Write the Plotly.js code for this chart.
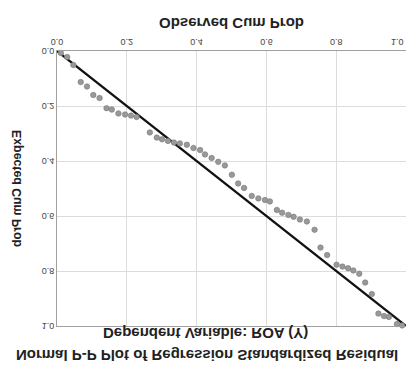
<!DOCTYPE html>
<html>
<head>
<meta charset="utf-8">
<script src="https://cdn.plot.ly/plotly-3.0.1.min.js"></script>
<style>
html,body{margin:0;padding:0;background:#fff;}
#chart{width:406px;height:365px;transform:scaleY(-1);transform-origin:50% 50%;}
</style>
</head>
<body>
<div id="chart"></div>
<script>
// Observed cumulative probability (x) and expected cumulative probability (y)
const observedCumProb = [0.011,0.029,0.047,0.068,0.086,0.104,0.122,0.142,0.157,0.176,0.195,0.212,0.228,
  0.266,0.286,0.301,0.318,0.335,0.352,0.372,0.391,0.410,0.424,0.443,0.462,0.481,0.501,0.519,0.536,
  0.558,0.577,0.596,0.610,0.630,0.645,0.663,0.678,0.696,0.716,0.738,0.755,0.774,0.801,0.818,0.834,
  0.849,0.866,0.883,0.902,0.921,0.937,0.951,0.974,0.989];
const expectedCumProb = [0.007,0.022,0.051,0.113,0.129,0.160,0.171,0.208,0.213,0.227,0.231,0.235,0.240,
  0.296,0.315,0.321,0.327,0.333,0.336,0.341,0.353,0.360,0.376,0.389,0.403,0.416,0.450,0.482,0.498,
  0.527,0.536,0.542,0.547,0.578,0.588,0.596,0.603,0.613,0.620,0.650,0.715,0.742,0.777,0.784,0.790,
  0.798,0.810,0.842,0.884,0.955,0.964,0.967,0.993,0.998];
const refLine = [0, 1];
const tickVals = [0, 0.2, 0.4, 0.6, 0.8, 1.0];
const tickText = ['0.0', '0.2', '0.4', '0.6', '0.8', '1.0'];

const FONT = 'Liberation Sans, Arial, sans-serif';
const TICKFONT = {family: FONT, size: 9, color: '#444'};

const traces = [
  {
    x: refLine, y: refLine, mode: 'lines', type: 'scatter',
    line: {color: '#111', width: 2.2}, hoverinfo: 'skip', showlegend: false
  },
  {
    x: observedCumProb, y: expectedCumProb, mode: 'markers', type: 'scatter',
    marker: {color: '#999999', size: 5.5, line: {color: '#777777', width: 0.6}},
    showlegend: false, cliponaxis: false
  }
];

const axisCommon = {
  range: [0, 1],
  showgrid: true, gridcolor: '#dcdcdc', gridwidth: 1,
  showline: true, linecolor: '#a0a0a0', linewidth: 1, mirror: true,
  zeroline: false, ticks: '', tickfont: TICKFONT
};

// last x tick label sits at the right edge of the page: draw it right-anchored so it is not cut
const lastX = tickVals[tickVals.length - 1];
const layout = {
  width: 406, height: 365,
  margin: {l: 57, r: 0, t: 39, b: 51},
  paper_bgcolor: '#fff', plot_bgcolor: '#fff',
  title: {
    text: '<b>Normal P-P Plot of Regression Standardized Residual</b>',
    font: {family: FONT, size: 15, color: '#222'},
    xref: 'container', x: 0.51, xanchor: 'center',
    yref: 'container', y: 1 - 10/365, yanchor: 'middle'
  },
  annotations: [
    {
      text: '<b>Dependent Variable: ROA (Y)</b>',
      xref: 'paper', yref: 'paper', x: (205 - 57) / 349, y: 1 + 8/275,
      xanchor: 'center', yanchor: 'middle', showarrow: false,
      font: {family: FONT, size: 15, color: '#222'}
    },
    {
      text: tickText[tickText.length - 1],
      xref: 'x', yref: 'paper', x: lastX, y: 0, yshift: -9,
      xanchor: 'right', yanchor: 'middle', showarrow: false,
      font: TICKFONT
    }
  ],
  xaxis: Object.assign({}, axisCommon, {
    tickvals: tickVals, ticktext: tickText.slice(0, -1).concat(['']),
    title: {text: '<b>Observed Cum Prob</b>', font: {family: FONT, size: 15, color: '#222'}, standoff: 9}
  }),
  yaxis: Object.assign({}, axisCommon, {
    tickvals: tickVals, ticktext: tickText,
    title: {text: '<b>Expected Cum Prob</b>', font: {family: FONT, size: 12.3, color: '#222'}, standoff: 17}
  })
};

Plotly.newPlot('chart', traces, layout, {staticPlot: true, displayModeBar: false});
</script>
</body>
</html>
